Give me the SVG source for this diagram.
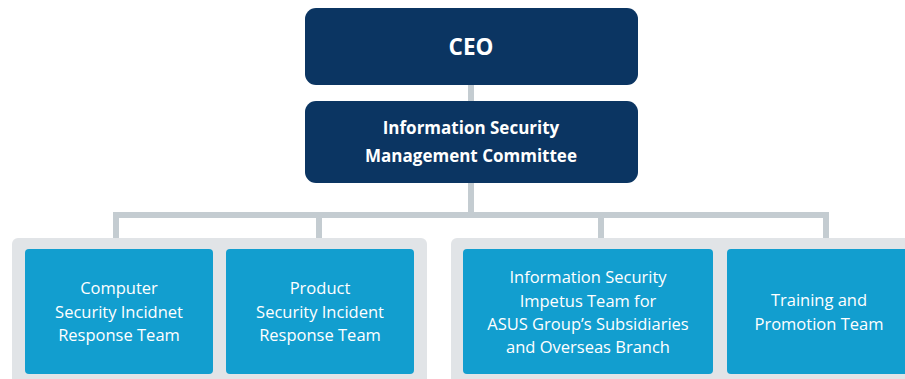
<svg xmlns="http://www.w3.org/2000/svg" width="905" height="379" viewBox="0 0 905 379">
<style>
.conn{fill:none;stroke:#c4ccd1;stroke-width:6;stroke-linejoin:miter;stroke-linecap:butt}
.panel{fill:#e1e4e7}
.dark{fill:#0b3562}
.blue{fill:#129ecf}
.t{font-family:"Open Sans","Noto Sans",sans-serif;fill:#ffffff;text-anchor:middle}
.b{font-weight:bold}
.r{font-size:16.5px}
</style>
<rect width="905" height="379" fill="#ffffff"/>
<g id="connectors">
<line class="conn" x1="471" y1="84" x2="471" y2="102"/>
<line class="conn" x1="471" y1="182" x2="471" y2="215"/>
<polyline class="conn" points="116,239 116,215 826,215 826,239"/>
<line class="conn" x1="319" y1="215" x2="319" y2="239"/>
<line class="conn" x1="601" y1="215" x2="601" y2="239"/>
</g>
<g id="panel-left"><rect class="panel" x="12" y="238" width="415" height="150" rx="6"/></g>
<g id="panel-right"><rect class="panel" x="451" y="238" width="470" height="150" rx="6"/></g>
<g id="ceo">
<rect class="dark" x="305" y="8" width="333" height="77" rx="11"/>
<text class="t b" x="471" y="55" font-size="22.5">CEO</text>
</g>
<g id="ismc">
<rect class="dark" x="305" y="101" width="333" height="82" rx="11"/>
<text class="t b" x="471" y="134" font-size="17">Information Security</text>
<text class="t b" x="471" y="162" font-size="17">Management Committee</text>
</g>
<g id="csirt">
<rect class="blue" x="25" y="249" width="188" height="125" rx="4"/>
<text class="t r" x="119" y="294">Computer</text>
<text class="t r" x="119" y="318">Security Incidnet</text>
<text class="t r" x="119" y="341">Response Team</text>
</g>
<g id="psirt">
<rect class="blue" x="226" y="249" width="188" height="125" rx="4"/>
<text class="t r" x="320" y="294">Product</text>
<text class="t r" x="320" y="318">Security Incident</text>
<text class="t r" x="320" y="341">Response Team</text>
</g>
<g id="impetus">
<rect class="blue" x="463" y="249" width="250" height="125" rx="4"/>
<text class="t r" x="588" y="283">Information Security</text>
<text class="t r" x="588" y="307">Impetus Team for</text>
<text class="t r" x="588" y="330">ASUS Group’s Subsidiaries</text>
<text class="t r" x="588" y="353">and Overseas Branch</text>
</g>
<g id="training">
<rect class="blue" x="727" y="249" width="190" height="125" rx="4"/>
<text class="t r" x="819" y="306">Training and</text>
<text class="t r" x="819" y="330">Promotion Team</text>
</g>
</svg>
